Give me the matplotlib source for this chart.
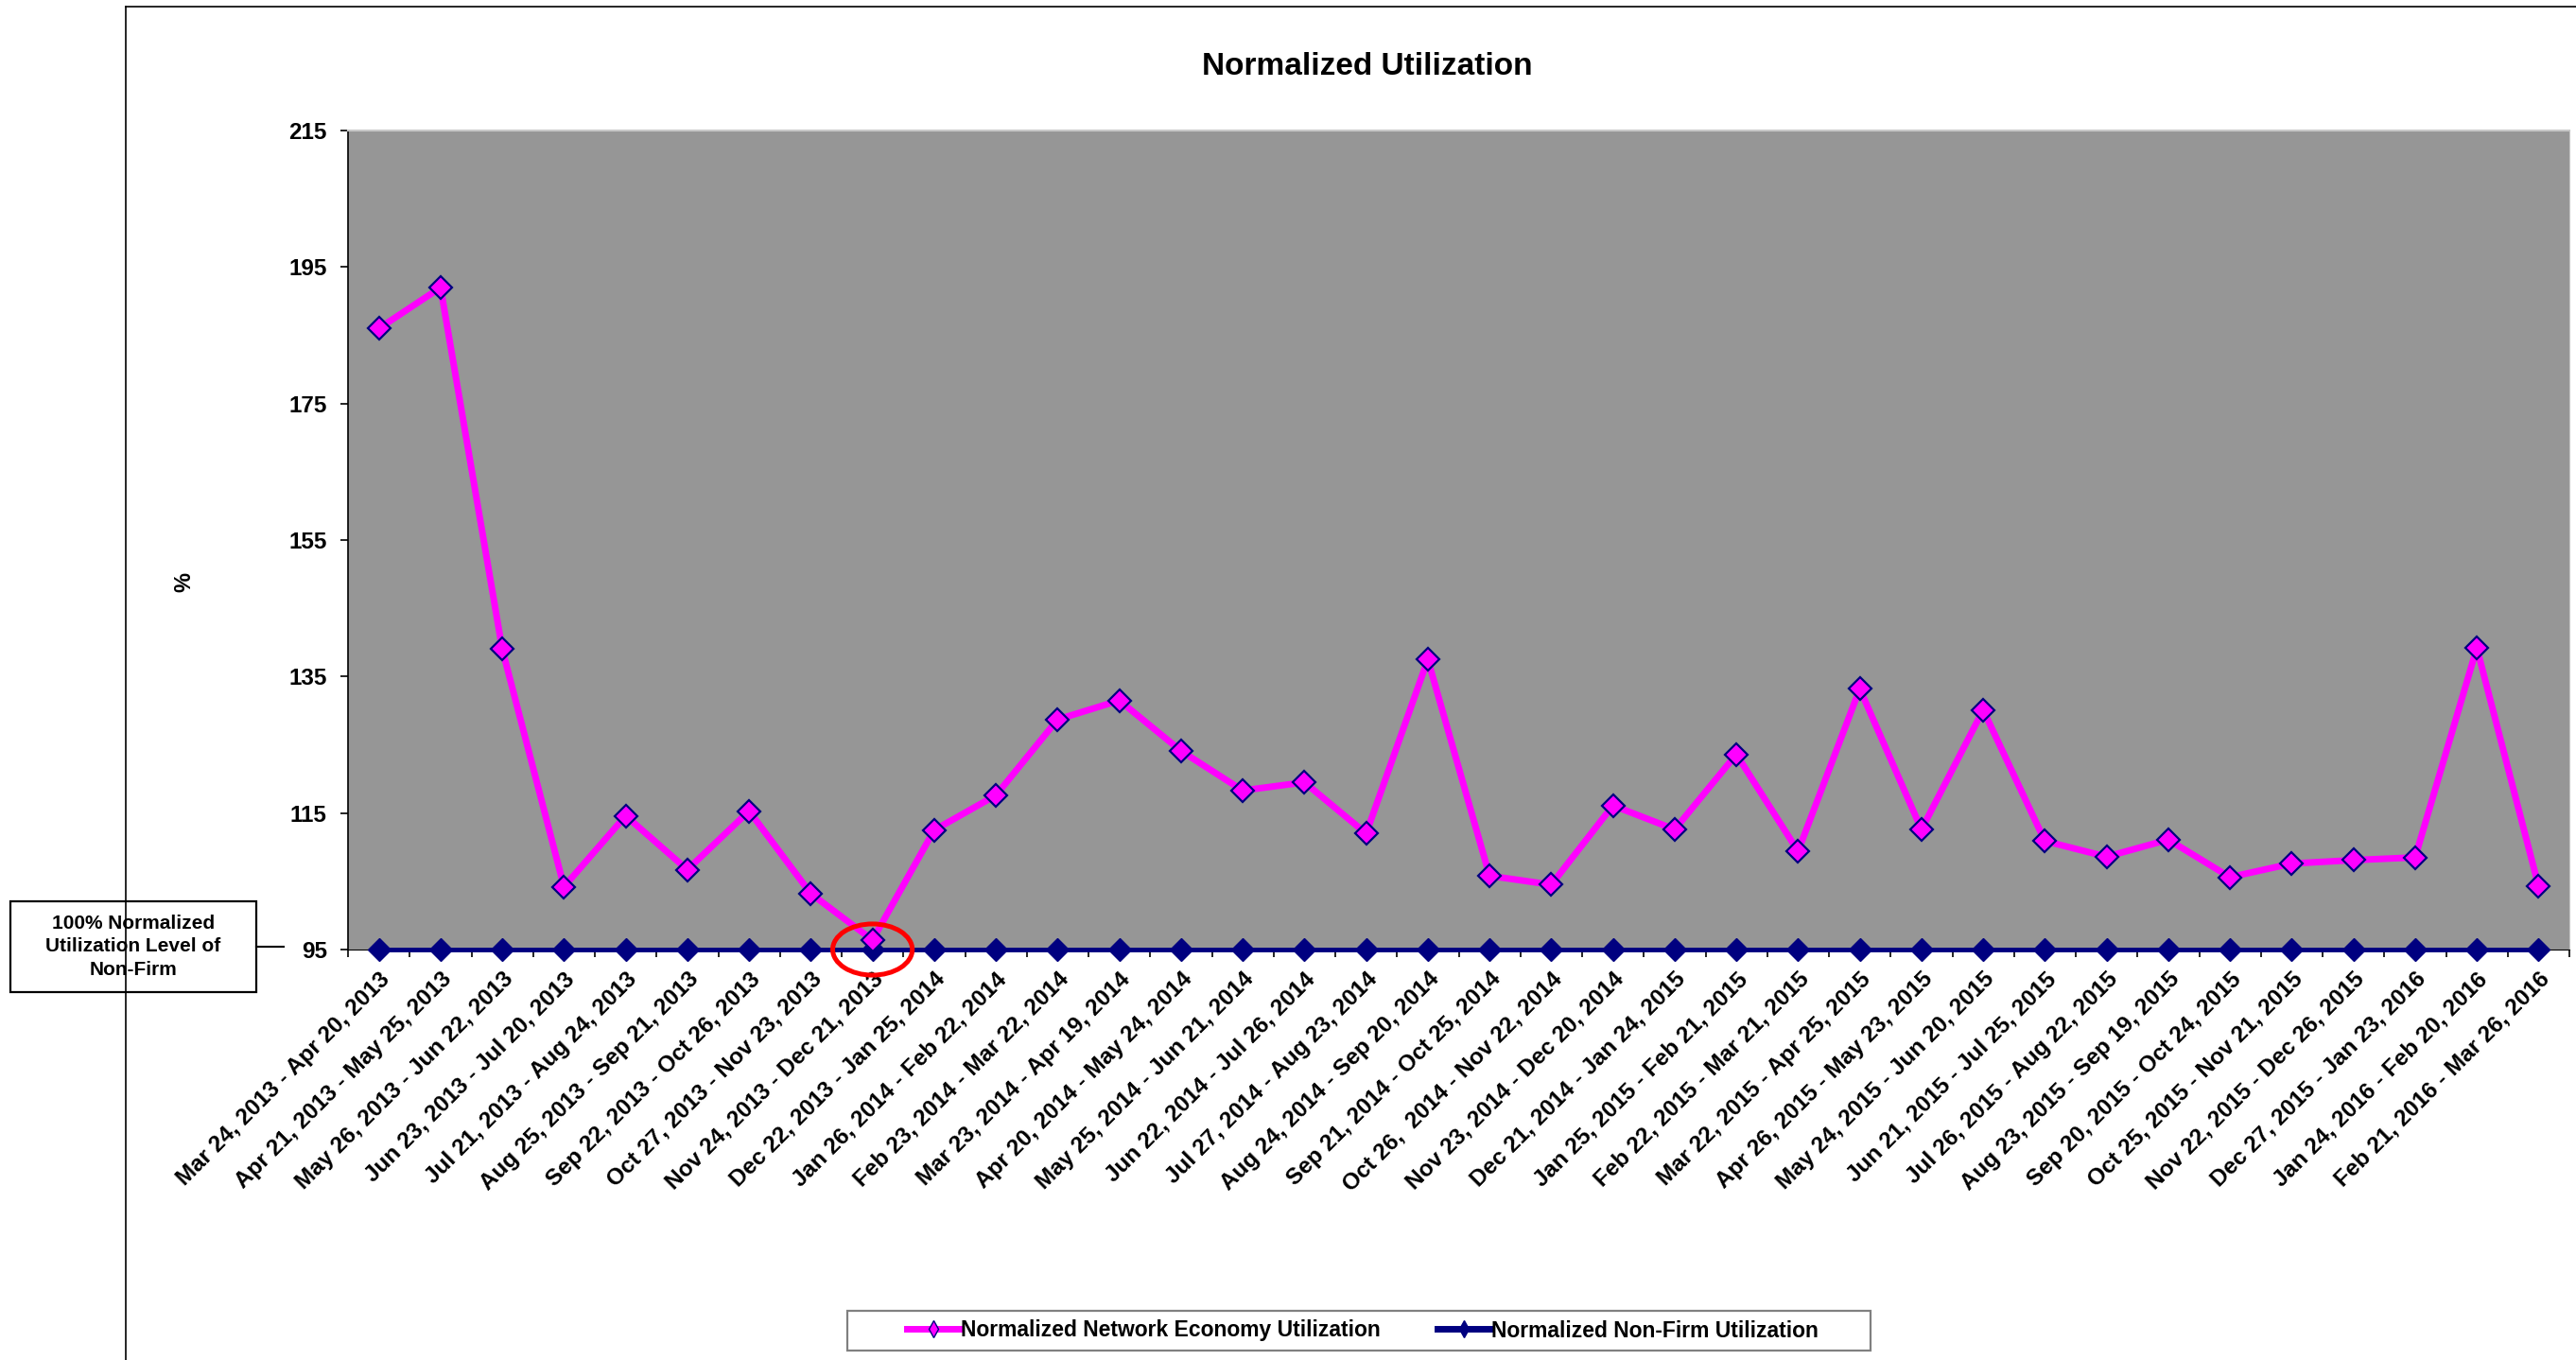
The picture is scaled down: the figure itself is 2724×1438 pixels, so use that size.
import matplotlib.pyplot as plt
import numpy as np
from matplotlib.patches import Ellipse, Rectangle
from matplotlib.lines import Line2D
from matplotlib.transforms import ScaledTranslation

plt.rcParams['font.family'] = ['Liberation Sans', 'DejaVu Sans']
plt.rcParams['font.weight'] = 'bold'

periods = [
    'Mar 24, 2013 - Apr 20, 2013', 'Apr 21, 2013 - May 25, 2013',
    'May 26, 2013 - Jun 22, 2013', 'Jun 23, 2013 - Jul 20, 2013',
    'Jul 21, 2013 - Aug 24, 2013', 'Aug 25, 2013 - Sep 21, 2013',
    'Sep 22, 2013 - Oct 26, 2013', 'Oct 27, 2013 - Nov 23, 2013',
    'Nov 24, 2013 - Dec 21, 2013', 'Dec 22, 2013 - Jan 25, 2014',
    'Jan 26, 2014 - Feb 22, 2014', 'Feb 23, 2014 - Mar 22, 2014',
    'Mar 23, 2014 - Apr 19, 2014', 'Apr 20, 2014 - May 24, 2014',
    'May 25, 2014 - Jun 21, 2014', 'Jun 22, 2014 - Jul 26, 2014',
    'Jul 27, 2014 - Aug 23, 2014', 'Aug 24, 2014 - Sep 20, 2014',
    'Sep 21, 2014 - Oct 25, 2014', 'Oct 26,  2014 - Nov 22, 2014',
    'Nov 23, 2014 - Dec 20, 2014', 'Dec 21, 2014 - Jan 24, 2015',
    'Jan 25, 2015 - Feb 21, 2015', 'Feb 22, 2015 - Mar 21, 2015',
    'Mar 22, 2015 - Apr 25, 2015', 'Apr 26, 2015 - May 23, 2015',
    'May 24, 2015 - Jun 20, 2015', 'Jun 21, 2015 - Jul 25, 2015',
    'Jul 26, 2015 - Aug 22, 2015', 'Aug 23, 2015 - Sep 19, 2015',
    'Sep 20, 2015 - Oct 24, 2015', 'Oct 25, 2015 - Nov 21, 2015',
    'Nov 22, 2015 - Dec 26, 2015', 'Dec 27, 2015 - Jan 23, 2016',
    'Jan 24, 2016 - Feb 20, 2016', 'Feb 21, 2016 - Mar 26, 2016',
]

economy = [186.0, 192.0, 139.0, 104.2, 114.6, 106.7, 115.3, 103.2, 96.4,
           112.5, 117.6, 128.7, 131.5, 124.1, 118.3, 119.5, 112.0, 137.5,
           105.8, 104.5, 116.1, 112.6, 123.6, 109.4, 133.2, 112.6, 130.1,
           110.9, 108.6, 111.1, 105.6, 107.6, 108.1, 108.5, 139.2, 104.3]

non_firm = [95, 95, 95, 95, 95, 95, 95, 95, 95, 95, 95, 95,
            95, 95, 95, 95, 95, 95, 95, 95, 95, 95, 95, 95,
            95, 95, 95, 95, 95, 95, 95, 95, 95, 95, 95, 95]

y_ticks = [95, 115, 135, 155, 175, 195, 215]

MAGENTA = '#FF00FF'
NAVY = '#000080'
W, H = 2724, 1438

fig = plt.figure(figsize=(W / 100, H / 100), dpi=100)
ax = fig.add_axes([368 / W, 1 - 1004 / H, (2717 - 368) / W, (1004 - 138) / H])
ax.set_facecolor('#969696')

x = np.arange(len(periods))
ax.plot(x, non_firm, color=NAVY, lw=3.5, marker='D', ms=12.5, mfc=NAVY, mec=NAVY,
        clip_on=False, zorder=3)
ax.plot(x, economy, color=MAGENTA, lw=5, marker='D', ms=12, mfc=MAGENTA, mec=NAVY,
        mew=1.6, clip_on=False, zorder=4)

ax.set_xlim(-0.5, len(periods) - 0.5)
ax.set_ylim(y_ticks[0], y_ticks[-1])
ax.set_yticks(y_ticks)
ax.tick_params(axis='y', length=6, width=1.2, pad=10, labelsize=17.5)

ax.set_xticks(x)
ax.set_xticklabels(periods, rotation=45, ha='right', va='center',
                   rotation_mode='anchor', fontsize=17.5)
ax.tick_params(axis='x', which='major', length=0, pad=20)
ax.set_xticks(np.arange(-0.5, len(periods), 1), minor=True)
ax.tick_params(axis='x', which='minor', length=6, width=1.2)
shift = ScaledTranslation(8 / 100, 0, fig.dpi_scale_trans)
for lab in ax.get_xticklabels():
    lab.set_transform(lab.get_transform() + shift)

ax.spines['left'].set_color('black')
ax.spines['left'].set_linewidth(1.2)
ax.spines['bottom'].set_color('black')
ax.spines['top'].set_color('#c8c8c8')
ax.spines['right'].set_color('#c8c8c8')
ax.spines['top'].set_linewidth(1.5)

# red circle around the lowest point
low = int(np.argmin(economy))
ax.add_patch(Ellipse((low, non_firm[low]), 1.29, 7.5, fill=False, ec='#FF0000',
                     lw=3.6, clip_on=False, zorder=5))

fig.text(1446 / W, 1 - 79 / H, 'Normalized Utilization', ha='center', va='baseline',
         fontsize=24)
fig.text(195 / W, 1 - 615 / H, '%', rotation=90, ha='center', va='center',
         fontsize=17)

# chart frame (left and top edges visible)
fig.add_artist(Line2D([133 / W, 133 / W], [0, 1 - 7 / H], color='black', lw=1.2))
fig.add_artist(Line2D([133 / W, 1], [1 - 7 / H, 1 - 7 / H], color='black', lw=1.2))

# annotation box
fig.add_artist(Rectangle((11 / W, 1 - 1049 / H), 260 / W, 96 / H,
                         transform=fig.transFigure, fc='white', ec='black', lw=1.6))
fig.text(141 / W, 1 - 1001 / H, '100% Normalized\nUtilization Level of\nNon-Firm',
         ha='center', va='center', fontsize=15, linespacing=1.35)
fig.add_artist(Line2D([271 / W, 300 / W], [1 - 1001 / H, 1 - 1001 / H],
                      color='black', lw=1.5))

# legend
fig.add_artist(Rectangle((896 / W, 1 - 1428 / H), 1082 / W, 42 / H,
                         transform=fig.transFigure, fc='white', ec='#808080', lw=1.6))
handles = [
    Line2D([], [], color=MAGENTA, lw=5, marker='d', ms=9, mfc=MAGENTA, mec=NAVY, mew=1),
    Line2D([], [], color=NAVY, lw=5, marker='d', ms=9, mfc=NAVY, mec=NAVY),
]
fig.legend(handles, ['Normalized Network Economy Utilization',
                     'Normalized Non-Firm Utilization'],
           loc='center', bbox_to_anchor=(1441 / W, 1 - 1407 / H), ncol=2,
           fontsize=16.5, frameon=False, handlelength=2.45, handletextpad=0.05,
           columnspacing=2.6, borderpad=0.2, borderaxespad=0)

fig.savefig('out.png', dpi=100)
